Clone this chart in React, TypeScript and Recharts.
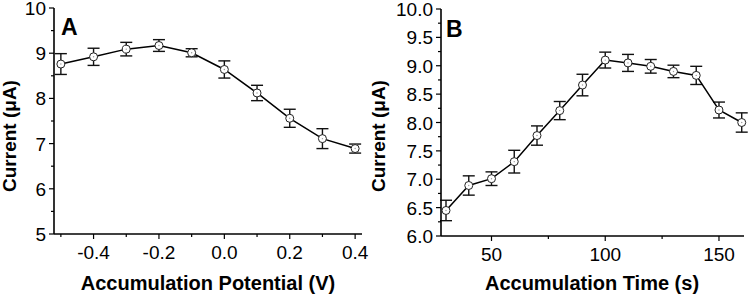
import { LineChart, Line, XAxis, YAxis, ErrorBar } from "recharts";

// Panel A: accumulation potential
const potentials = [-0.5, -0.4, -0.3, -0.2, -0.1, 0.0, 0.1, 0.2, 0.3, 0.4];
const currentA = [8.76, 8.92, 9.09, 9.17, 9.01, 8.64, 8.12, 7.56, 7.11, 6.89];
const errA = [0.23, 0.19, 0.15, 0.13, 0.09, 0.19, 0.17, 0.2, 0.22, 0.1];

// Panel B: accumulation time
const times = [30, 40, 50, 60, 70, 80, 90, 100, 110, 120, 130, 140, 150, 160];
const currentB = [6.45, 6.89, 7.01, 7.31, 7.77, 8.21, 8.66, 9.1, 9.05, 8.99, 8.9, 8.83, 8.22, 8.0];
const errB = [0.18, 0.17, 0.12, 0.2, 0.17, 0.16, 0.19, 0.14, 0.15, 0.12, 0.11, 0.16, 0.14, 0.17];

const xTicksA = [-0.5, -0.4, -0.3, -0.2, -0.1, 0, 0.1, 0.2, 0.3, 0.4];
const xMajorA = [-0.4, -0.2, 0, 0.2, 0.4];
const yTicksA = [5, 5.5, 6, 6.5, 7, 7.5, 8, 8.5, 9, 9.5, 10];
const yMajorA = [5, 6, 7, 8, 9, 10];

const xTicksB = [50, 75, 100, 125, 150];
const xMajorB = [50, 100, 150];
const yTicksB = [6, 6.25, 6.5, 6.75, 7, 7.25, 7.5, 7.75, 8, 8.25, 8.5, 8.75, 9, 9.25, 9.5, 9.75, 10];
const yMajorB = [6, 6.5, 7, 7.5, 8, 8.5, 9, 9.5, 10];

const dataA = potentials.map((x, i) => ({ x, y: currentA[i], err: errA[i] }));
const dataB = times.map((x, i) => ({ x, y: currentB[i], err: errB[i] }));

const FONT = "'Liberation Sans', Arial, sans-serif";
const isIn = (arr: number[], v: number) => arr.some((m) => Math.abs(m - v) < 1e-6);

const makeXTick = (majors: number[], digits: number) => (props: any) => {
  const { x, y, payload } = props;
  const v = payload.value;
  const major = isIn(majors, v);
  return (
    <g>
      <line x1={x} x2={x} y1={y} y2={y + (major ? 5 : 3)} stroke="#000" strokeWidth={1.2} />
      {major && (
        <text x={x} y={y + 24.5} textAnchor="middle" fontSize={19} fontFamily={FONT} fill="#000">
          {v.toFixed(digits)}
        </text>
      )}
    </g>
  );
};

const makeYTick = (majors: number[], digits: number) => (props: any) => {
  const { x, y, payload } = props;
  const v = payload.value;
  const major = isIn(majors, v);
  return (
    <g>
      <line x1={x} x2={x - (major ? 5 : 3)} y1={y} y2={y} stroke="#000" strokeWidth={1.2} />
      {major && (
        <text x={x - 8} y={y + 7} textAnchor="end" fontSize={19} fontFamily={FONT} fill="#000">
          {v.toFixed(digits)}
        </text>
      )}
    </g>
  );
};

const OpenDot = (props: any) => {
  const { cx, cy, index } = props;
  return (
    <g key={index}>
      <circle cx={cx} cy={cy} r={4} fill="#fff" stroke="#222" strokeWidth={1} />
      <circle cx={cx} cy={cy} r={0.7} fill="#999" />
    </g>
  );
};

interface PanelProps {
  data: { x: number; y: number; err: number }[];
  xDomain: [number, number];
  yDomain: [number, number];
  xTicks: number[];
  yTicks: number[];
  xTick: (p: any) => any;
  yTick: (p: any) => any;
  yAxisWidth: number;
  margin: { top: number; right: number; left: number; bottom: number };
  xAxisHeight: number;
}

function Panel(p: PanelProps) {
  return (
    <LineChart width={374} height={295} data={p.data} margin={p.margin}>
      <XAxis
        type="number"
        dataKey="x"
        domain={p.xDomain}
        ticks={p.xTicks}
        interval={0}
        tick={p.xTick}
        tickLine={false}
        tickSize={0}
        tickMargin={0}
        height={p.xAxisHeight}
        axisLine={{ stroke: "#000", strokeWidth: 1.6 }}
      />
      <XAxis
        xAxisId="top"
        orientation="top"
        type="number"
        domain={p.xDomain}
        tick={false}
        tickLine={false}
        height={0}
        axisLine={{ stroke: "#000", strokeWidth: 1.6 }}
      />
      <YAxis
        type="number"
        domain={p.yDomain}
        ticks={p.yTicks}
        interval={0}
        tick={p.yTick}
        tickLine={false}
        tickSize={0}
        tickMargin={0}
        width={p.yAxisWidth}
        axisLine={{ stroke: "#000", strokeWidth: 1.6 }}
      />
      <YAxis
        yAxisId="right"
        orientation="right"
        type="number"
        domain={p.yDomain}
        tick={false}
        tickLine={false}
        width={0}
        axisLine={{ stroke: "#000", strokeWidth: 1.6 }}
      />
      <Line
        dataKey="y"
        stroke="#000"
        strokeWidth={1.5}
        dot={OpenDot}
        activeDot={false}
        isAnimationActive={false}
      >
        <ErrorBar dataKey="err" width={6} stroke="#111" strokeWidth={1.4} isAnimationActive={false} />
      </Line>
    </LineChart>
  );
}

export default function App() {
  const textStyle = { fontFamily: FONT, fill: "#000" };
  return (
    <div style={{ position: "absolute", left: 0, top: 0, width: 748, height: 295, background: "#fff" }}>
      <div style={{ position: "absolute", left: 0, top: 0 }}>
        <Panel
          data={dataA}
          xDomain={[-0.521, 0.421]}
          yDomain={[5, 10]}
          xTicks={xTicksA}
          yTicks={yTicksA}
          xTick={makeXTick(xMajorA, 1)}
          yTick={makeYTick(yMajorA, 0)}
          yAxisWidth={54}
          xAxisHeight={61}
          margin={{ top: 8, right: 12, left: 0, bottom: 0 }}
        />
      </div>
      <div style={{ position: "absolute", left: 374, top: 0 }}>
        <Panel
          data={dataB}
          xDomain={[27.8, 161]}
          yDomain={[6, 10]}
          xTicks={xTicksB}
          yTicks={yTicksB}
          xTick={makeXTick(xMajorB, 0)}
          yTick={makeYTick(yMajorB, 1)}
          yAxisWidth={67}
          xAxisHeight={59}
          margin={{ top: 9, right: 4, left: 0, bottom: 0 }}
        />
      </div>
      <svg width={748} height={295} style={{ position: "absolute", left: 0, top: 0, pointerEvents: "none" }}>
        <text x={61} y={35} fontSize={23} fontWeight="bold" {...textStyle}>A</text>
        <text x={446} y={37} fontSize={23} fontWeight="bold" {...textStyle}>B</text>
        <text x={208} y={290} fontSize={20} fontWeight="bold" textAnchor="middle" {...textStyle}>
          Accumulation Potential (V)
        </text>
        <text x={592} y={290} fontSize={20} fontWeight="bold" textAnchor="middle" {...textStyle}>
          Accumulation Time (s)
        </text>
        <text x={16} y={136} fontSize={19} fontWeight="bold" textAnchor="middle" transform="rotate(-90 16 136)" {...textStyle}>
          Current (μA)
        </text>
        <text x={385} y={136} fontSize={19} fontWeight="bold" textAnchor="middle" transform="rotate(-90 385 136)" {...textStyle}>
          Current (μA)
        </text>
      </svg>
    </div>
  );
}
